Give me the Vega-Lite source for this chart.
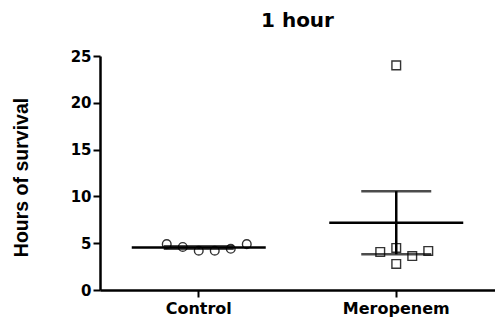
{
  "$schema": "https://vega.github.io/schema/vega-lite/v6.json",
  "autosize": {"type": "none"},
  "width": 395,
  "height": 234,
  "padding": {"left": 100, "top": 56, "right": 0, "bottom": 33},
  "background": "white",
  "title": {"text": "1 hour", "font": "DejaVu Sans", "fontSize": 20, "fontWeight": "bold", "color": "black", "anchor": "middle", "offset": 18},
  "data": {"values": [
    {"group": "Control", "slot": -2, "hours": 4.9},
    {"group": "Control", "slot": -1, "hours": 4.6},
    {"group": "Control", "slot": 0, "hours": 4.2},
    {"group": "Control", "slot": 1, "hours": 4.2},
    {"group": "Control", "slot": 2, "hours": 4.4},
    {"group": "Control", "slot": 3, "hours": 4.9},
    {"group": "Meropenem", "slot": -1, "hours": 4.06},
    {"group": "Meropenem", "slot": 0, "hours": 4.49},
    {"group": "Meropenem", "slot": 1, "hours": 3.63},
    {"group": "Meropenem", "slot": 2, "hours": 4.17},
    {"group": "Meropenem", "slot": 0, "hours": 2.78},
    {"group": "Meropenem", "slot": 0, "hours": 24.0}
  ]},
  "encoding": {
    "x": {"field": "group", "type": "nominal", "sort": ["Control", "Meropenem"],
      "scale": {"paddingInner": 0, "paddingOuter": 0},
      "axis": {"title": null, "labelAngle": 0, "labelFont": "DejaVu Sans", "labelFontSize": 16, "labelFontWeight": "bold", "labelColor": "black",
        "labelPadding": 3, "tickSize": 7, "tickWidth": 2, "tickColor": "black", "domainColor": "black", "domainWidth": 2.5}}
  },
  "layer": [
    {
      "mark": {"type": "point", "filled": false, "strokeWidth": 1.4, "color": "#333", "opacity": 1},
      "encoding": {
        "xOffset": {"field": "slot", "type": "quantitative", "scale": {"domain": [-6.17, 6.17]}},
        "y": {"field": "hours", "type": "quantitative", "title": "Hours of survival",
          "scale": {"domain": [0, 25], "nice": false},
          "axis": {"values": [0, 5, 10, 15, 20, 25], "grid": false,
            "titleFont": "Liberation Sans", "titleFontSize": 19.5, "titleFontWeight": "bold", "titleColor": "black",
            "titleX": -79, "titleY": 121, "titleAngle": -90, "titleAlign": "center", "titleBaseline": "middle",
            "labelFont": "DejaVu Sans", "labelFontSize": 15, "labelFontWeight": "bold", "labelColor": "black", "labelPadding": 2,
            "tickSize": 7, "tickWidth": 2, "tickColor": "black", "domainColor": "black", "domainWidth": 2.5}},
        "shape": {"field": "group", "type": "nominal", "scale": {"domain": ["Control", "Meropenem"], "range": ["circle", "square"]}, "legend": null},
        "size": {"value": 75}
      }
    },
    {
      "mark": {"type": "tick", "orient": "horizontal", "size": 134, "thickness": 2.5, "color": "black"},
      "encoding": {"y": {"field": "hours", "type": "quantitative", "aggregate": "mean", "title": "Hours of survival"}}
    },
    {
      "mark": {"type": "errorbar", "extent": "stderr", "color": "black", "rule": {"strokeWidth": 2.5}, "ticks": {"size": 70, "thickness": 2.5}},
      "encoding": {"y": {"field": "hours", "type": "quantitative", "title": "Hours of survival"}}
    }
  ],
  "config": {"view": {"stroke": null}}
}
